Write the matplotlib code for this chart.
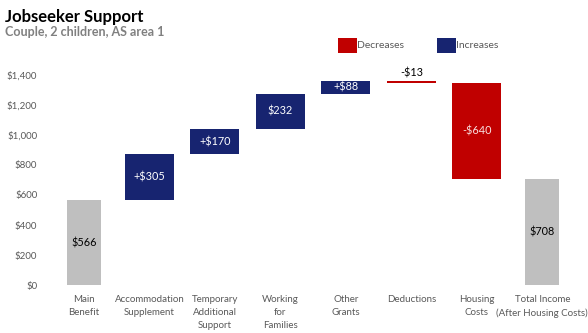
import matplotlib
matplotlib.use("Agg")
import matplotlib.pyplot as plt
from matplotlib.patches import Rectangle

categories = ["Main\nBenefit", "Accommodation\nSupplement", "Temporary\nAdditional\nSupport",
              "Working\nfor\nFamilies", "Other\nGrants", "Deductions", "Housing\nCosts",
              "Total Income\n(After Housing Costs)"]
changes = [566, 305, 170, 232, 88, -13, -640, 708]
kinds = ["total", "delta", "delta", "delta", "delta", "delta", "delta", "total"]
labels = ["$566", "+$305", "+$170", "$232", "+$88", "-$13", "-$640", "$708"]
yticks = [0, 200, 400, 600, 800, 1000, 1200, 1400]

NAVY = "#172470"
RED = "#C00000"
GREY = "#BFBFBF"
TXT = "#595959"

plt.rcParams['font.family'] = ['Lato', 'DejaVu Sans']
fig = plt.figure(figsize=(5.88, 3.33), dpi=100)
ax = fig.add_axes([0.087, 0.144, 0.891, 0.631])

running = 0
for i, (c, k, lab) in enumerate(zip(changes, kinds, labels)):
    if k == "total":
        bottom, height, col, w = 0, c, GREY, 0.52
        running = c
        tc = "black"
    else:
        if c >= 0:
            bottom, height, col = running, c, NAVY
            tc = "white"
        else:
            bottom, height, col = running + c, -c, RED
            tc = "#F8E0E0"
        running += c
        w = 0.75
    ax.bar(i, height, bottom=bottom, width=w, color=col, linewidth=0)
    if k == "delta" and abs(c) < 40 and c < 0:
        ax.text(i, bottom + height + 12, lab, ha="center", va="bottom", fontsize=7.8, color="black")
    else:
        ax.text(i, bottom + height / 2, lab, ha="center", va="center", fontsize=7.8, color=tc)

ax.set_xlim(-0.5, len(categories) - 0.5)
ax.set_ylim(0, 1400)
ax.set_yticks(yticks)
ax.set_yticklabels([f"${v:,}" for v in yticks])
ax.set_xticks(range(len(categories)))
ax.set_xticklabels(categories, linespacing=1.6)
ax.tick_params(axis="both", length=0, labelsize=7, colors=TXT)
ax.tick_params(axis="y", pad=10)
ax.tick_params(axis="x", pad=7)
for s in ax.spines.values():
    s.set_visible(False)

fig.text(5 / 588, 1 - 17 / 333, "Jobseeker Support", fontsize=12, fontweight="bold",
         color="black", va="center", ha="left")
fig.text(5 / 588, 1 - 32 / 333, "Couple, 2 children, AS area 1", fontsize=9, fontweight="bold",
         color="#808080", va="center", ha="left")

# legend
for x0, col, name in [(338, RED, "Decreases"), (437, NAVY, "Increases")]:
    fig.patches.append(Rectangle((x0 / 588, 1 - 53 / 333), 19 / 588, 15 / 333,
                                 transform=fig.transFigure, color=col, linewidth=0))
    fig.text((x0 + 19) / 588, 1 - 45.5 / 333, name, fontsize=7.5, color=TXT,
             va="center", ha="left")

fig.savefig("out.png", dpi=100)
